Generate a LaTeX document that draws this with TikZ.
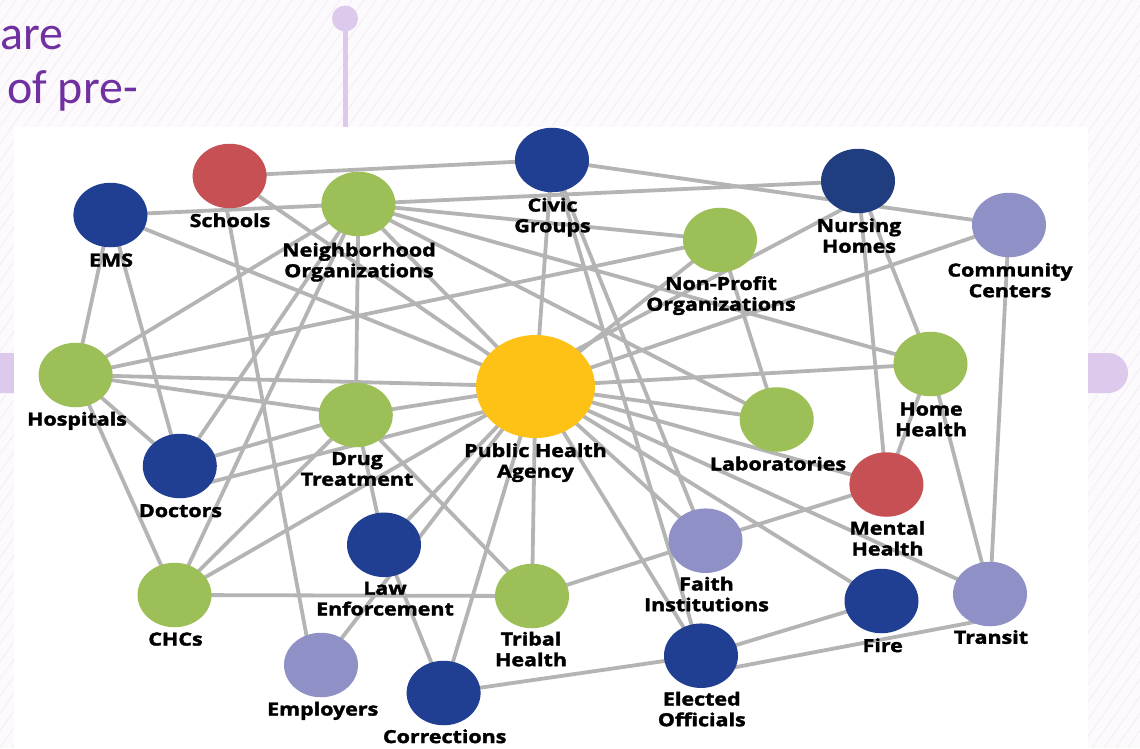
\documentclass[tikz,border=0pt]{standalone}
\usepackage{fontspec}
\newfontfamily\lblfont[FakeStretch=1.19,BoldFeatures={FakeBold=2}]{Open Sans}
\newfontfamily\slidefont{Carlito}
\usetikzlibrary{shapes.geometric}
\pgfdeclarelayer{back}
\pgfdeclarelayer{edges}
\pgfsetlayers{back,edges,main}
\definecolor{grn}{HTML}{9DBF57}
\definecolor{blu}{HTML}{213F92}
\definecolor{dblu}{HTML}{1F3D7F}
\definecolor{rd}{HTML}{C65054}
\definecolor{lvd}{HTML}{8F90C5}
\definecolor{ylw}{HTML}{FEC217}
\definecolor{edgegray}{HTML}{B4B4B4}
\definecolor{lav}{HTML}{DCC9EC}
\definecolor{purp}{HTML}{7030A0}
\definecolor{bgc}{HTML}{FCFAFC}
\definecolor{hatchc}{HTML}{F4ECF5}
\begin{document}
\begin{tikzpicture}[x=1pt,y=-1pt,
  dot/.style={ellipse,minimum width=74pt,minimum height=64.5pt,inner sep=0pt,draw=none},
  gdot/.style={dot,fill=grn},
  bdot/.style={dot,fill=blu},
  ddot/.style={dot,fill=dblu},
  rdot/.style={dot,fill=rd},
  ldot/.style={dot,fill=lvd},
  ydot/.style={ellipse,minimum width=119pt,minimum height=103pt,inner sep=0pt,fill=ylw},
  edge/.style={draw=edgegray,line width=3.8pt},
  lbl/.style={font=\lblfont\bfseries\fontsize{18}{20.7}\selectfont,align=center,inner sep=0pt,text=black},
  slide/.style={font=\slidefont\fontsize{48}{52}\selectfont,text=purp,inner sep=0pt}
]
\useasboundingbox (0,0) rectangle (1140,748);
% ---------- background ----------
\begin{pgfonlayer}{back}
\fill[bgc] (0,0) rectangle (1140,748);
\begin{scope}
\clip (0,0) rectangle (1140,748);
\foreach \i in {-600,-588,...,1260} \draw[hatchc,line width=0.8pt] (\i,748) -- (\i+520,0);
\end{scope}
\fill[lav,rounded corners=20pt] (-40,353) rectangle (1128,393);
\draw[lav,line width=5pt] (345,18.5) -- (345,127);
\fill[lav] (345,18.5) circle (13);
\fill[white] (14,127) rectangle (1088,748);
\end{pgfonlayer}
\node[slide,anchor=base west] (t1) at (0,49.3) {are};
\node[slide,anchor=base east] (t2) at (138,103.3) {of pre-};
% ---------- nodes ----------
\node[rdot] (sch) at (229.6,176) {};
\node[bdot] (ems) at (110.4,215) {};
\node[gdot] (nbh) at (358.4,204) {};
\node[bdot] (civ) at (552,160) {};
\node[ddot] (nur) at (858,181) {};
\node[ldot] (com) at (1009,225) {};
\node[gdot] (npo) at (720,240) {};
\node[gdot] (hos) at (75.6,375) {};
\node[ydot] (pha) at (535.5,386.5) {};
\node[gdot] (hom) at (930.5,364) {};
\node[gdot] (drg) at (355.8,415) {};
\node[bdot] (doc) at (179.8,466) {};
\node[gdot] (lab) at (776.7,419.5) {};
\node[rdot] (men) at (886.4,484.5) {};
\node[bdot] (law) at (384,544.8) {};
\node[gdot] (chc) at (174.5,595) {};
\node[ldot] (fai) at (705.5,540.7) {};
\node[bdot] (fir) at (881.5,601) {};
\node[ldot] (tra) at (990,594) {};
\node[gdot] (tri) at (532,596) {};
\node[ldot] (emp) at (321,665) {};
\node[bdot] (cor) at (443.6,693) {};
\node[bdot] (ele) at (701,655.7) {};
% ---------- connectors ----------
\begin{pgfonlayer}{edges}
\foreach \a/\b in {sch/civ, sch/pha,
  ems/nbh, ems/pha, ems/hos, ems/doc,
  nbh/nur, nbh/npo, nbh/hom, nbh/lab, nbh/pha, nbh/drg, nbh/hos, nbh/doc, nbh/chc,
  civ/com, civ/pha, civ/fai, civ/ele,
  nur/men, nur/hom,
  com/pha, com/tra,
  npo/hos, npo/pha, npo/lab,
  hos/pha, hos/drg, hos/doc, hos/chc,
  pha/hom, pha/lab, pha/men, pha/tra, pha/fir, pha/fai, pha/ele, pha/tri, pha/cor, pha/emp, pha/law, pha/chc, pha/drg,
  hom/men, hom/tra, men/fai, fir/ele, fai/tri, cor/ele,
  drg/tri, drg/doc, drg/chc, drg/law, law/cor, chc/tri}
  \draw[edge] (\a.center) -- (\b.center);
\draw[edge] ([xshift=-9pt]sch.center) -- ([xshift=-9pt]emp.center);
\draw[edge] ([yshift=-20pt]nur.center) -- ([yshift=15pt]pha.center);
\draw[edge] ([yshift=-24pt]doc.center) -- ([yshift=-12pt]pha.center);
\draw[edge] ([yshift=-18pt]ele.center) -- ([yshift=-25pt]tra.center);
\end{pgfonlayer}
% ---------- labels ----------
\node[lbl] (schL) at (230,222.9) {\strut Schools};
\node[lbl] (emsL) at (111,262.4) {\strut EMS};
\node[lbl] (nbhL) at (359,262.7) {\strut Neighborhood\\\strut Organizations};
\node[lbl] (civL) at (552.5,217.7) {\strut Civic\\\strut Groups};
\node[lbl] (nurL) at (859,238.2) {\strut Nursing\\\strut Homes};
\node[lbl] (comL) at (1010,282.7) {\strut Community\\\strut Centers};
\node[lbl] (npoL) at (721,296.2) {\strut Non-Profit\\\strut Organizations};
\node[lbl] (hosL) at (77,421.4) {\strut Hospitals};
\node[lbl] (homL) at (931,421.7) {\strut Home\\\strut Health};
\node[lbl] (drgL) at (357,471.2) {\strut Drug\\\strut Treatment};
\node[lbl] (docL) at (180.5,512.9) {\strut Doctors};
\node[lbl] (phaL) at (535.5,463.2) {\strut Public Health\\\strut Agency};
\node[lbl] (labL) at (778,466.2) {\strut Laboratories};
\node[lbl] (menL) at (887.5,540.9) {\strut Mental\\\strut Health};
\node[lbl] (lawL) at (385,600.9) {\strut Law\\\strut Enforcement};
\node[lbl] (chcL) at (175.5,641.4) {\strut CHCs};
\node[lbl] (faiL) at (706.5,596.7) {\strut Faith\\\strut Institutions};
\node[lbl] (firL) at (882.7,647.9) {\strut Fire};
\node[lbl] (traL) at (991,639.6) {\strut Transit};
\node[lbl] (triL) at (531,651.7) {\strut Tribal\\\strut Health};
\node[lbl] (empL) at (322.7,711.4) {\strut Employers};
\node[lbl] (corL) at (444.7,738.9) {\strut Corrections};
\node[lbl] (eleL) at (701.8,711.7) {\strut Elected\\\strut Officials};
\end{tikzpicture}
\end{document}
